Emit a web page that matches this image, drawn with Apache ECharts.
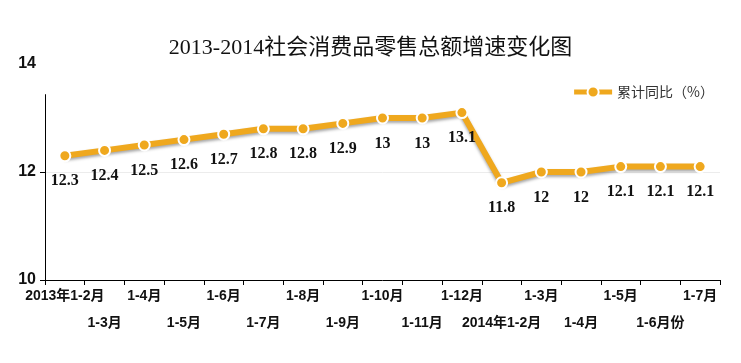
<!DOCTYPE html>
<html><head><meta charset="utf-8">
<script src="https://cdn.jsdelivr.net/npm/echarts@6/dist/echarts.min.js"></script>
<style>html,body{margin:0;padding:0;background:#fff}#c{width:741px;height:363px}</style>
</head><body><div id="c"></div>
<script>
const title = '2013-2014社会消费品零售总额增速变化图';
const seriesName = '累计同比（%）';
const categories = ['2013年1-2月','1-3月','1-4月','1-5月','1-6月','1-7月','1-8月','1-9月','1-10月','1-11月','1-12月','2014年1-2月','1-3月','1-4月','1-5月','1-6月份','1-7月'];
const values = [12.3,12.4,12.5,12.6,12.7,12.8,12.8,12.9,13,13,13.1,11.8,12,12,12.1,12.1,12.1];
const yTicks = [10,12,14];
const yTickMarks = [10,12];
const axisTop = 13.44;

const chart = echarts.init(document.getElementById('c'));
chart.setOption({
  backgroundColor:'#fff',
  animation:false,
  title:{text:title,left:'center',top:32,textStyle:{fontFamily:'Liberation Serif, "Noto Sans CJK SC"',fontWeight:'normal',fontSize:22,color:'#111'}},
  legend:{right:22,top:80,itemWidth:38,itemHeight:14,itemGap:8,
    textStyle:{fontSize:14,color:'#333',fontFamily:'"Noto Sans CJK SC", sans-serif'},
    data:[{name:seriesName,lineStyle:{width:5,color:'#EFA81E'}}]},
  grid:{left:45,right:21,top:64,bottom:83},
  xAxis:{type:'category',data:categories,boundaryGap:true,
    axisLine:{lineStyle:{color:'#000',width:1}},
    axisTick:{show:true,length:5,lineStyle:{color:'#000'}},
    axisLabel:{interval:0,hideOverlap:false,margin:3,color:'#111',fontWeight:'bold',fontSize:14,lineHeight:27,
      fontFamily:'Liberation Sans, "Noto Sans CJK SC", sans-serif',
      formatter:(v,i)=> i%2===1 ? '\n'+v : v}},
  yAxis:{type:'value',min:yTicks[0],max:yTicks[yTicks.length-1],interval:2,
    axisLine:{show:false},
    axisTick:{show:true,length:5,customValues:yTickMarks,lineStyle:{color:'#000'}},
    splitLine:{show:true,lineStyle:{color:['transparent','#ececec','transparent'],width:1}},
    axisLabel:{color:'#111',fontWeight:'bold',fontSize:16,margin:9,fontFamily:'Liberation Sans, sans-serif'}},
  series:[{name:seriesName,type:'line',data:values,
    symbol:'circle',symbolSize:11,
    lineStyle:{color:'#EFA81E',width:6,shadowColor:'rgba(0,0,0,0.35)',shadowBlur:3,shadowOffsetY:2},
    itemStyle:{color:'#EFA81E',borderColor:'#fff',borderWidth:2},
    label:{show:true,position:'bottom',distance:11,color:'#111',fontWeight:'bold',fontSize:16,fontFamily:'Liberation Serif, serif'}
  }]
});
const p0 = chart.convertToPixel({gridIndex:0},[0,axisTop]);
const p1 = chart.convertToPixel({gridIndex:0},[0,yTicks[0]]);
const gx = chart.getModel().getComponent('grid',0).coordinateSystem.getRect().x;
chart.setOption({graphic:[{type:'line',shape:{x1:gx+0.5,y1:p0[1],x2:gx+0.5,y2:p1[1]},style:{stroke:'#000',lineWidth:1},z:10}]});
</script></body></html>
